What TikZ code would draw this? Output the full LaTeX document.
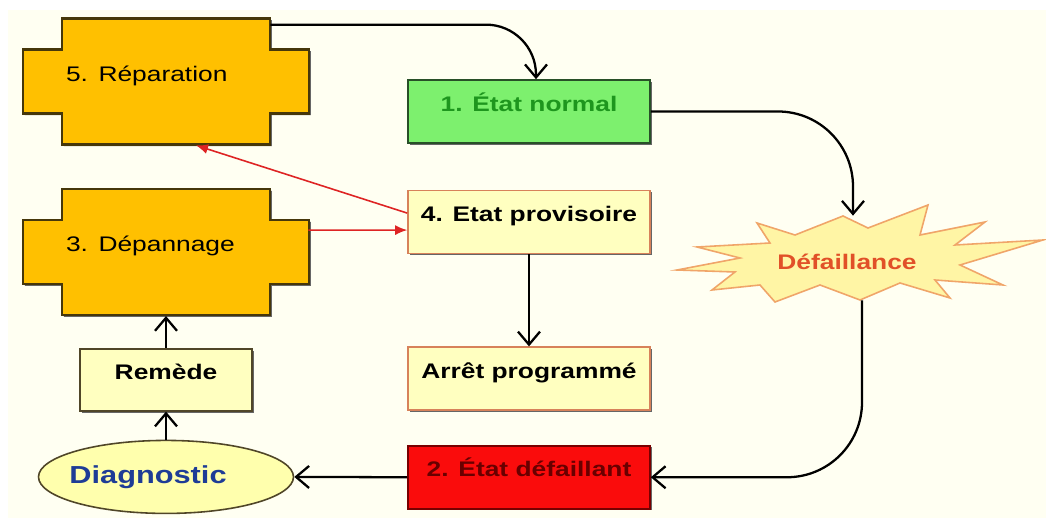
\documentclass[tikz,border=0pt]{standalone}
\usepackage{fontspec}
\setmainfont{Liberation Sans}[FakeStretch=1.25]
\usetikzlibrary{arrows.meta,positioning,shapes.geometric,backgrounds,shadows}

\definecolor{paper}{RGB}{255,255,242}
\definecolor{crossfill}{RGB}{255,192,0}
\definecolor{crossedge}{RGB}{70,55,10}
\definecolor{okfill}{RGB}{125,240,110}
\definecolor{okedge}{RGB}{40,80,40}
\definecolor{oktext}{RGB}{30,150,30}
\definecolor{palefill}{RGB}{255,255,192}
\definecolor{paleedge}{RGB}{215,130,90}
\definecolor{darkedge}{RGB}{80,70,40}
\definecolor{faultfill}{RGB}{250,12,12}
\definecolor{faultedge}{RGB}{120,0,0}
\definecolor{faulttext}{RGB}{105,0,0}
\definecolor{diagtext}{RGB}{30,60,150}
\definecolor{burstfill}{RGB}{255,245,165}
\definecolor{burstedge}{RGB}{240,165,105}
\definecolor{bursttext}{RGB}{225,80,40}
\definecolor{redline}{RGB}{222,36,36}

\begin{document}
\begin{tikzpicture}[
          >={Straight Barb[length=2.6mm,width=4.4mm]},
          shade/.style={drop shadow={shadow xshift=0.035cm, shadow yshift=-0.035cm, fill=black!60, opacity=1}},
          state/.style={draw, line width=0.9pt, minimum width=4.84cm, minimum height=1.26cm,
                        inner sep=0pt, text height=9pt, text depth=9.5pt, shade,
                        font=\fontsize{12}{14}\selectfont\bfseries},
          normal/.style={state, fill=okfill, draw=okedge, text=oktext},
          pale/.style={state, fill=palefill, draw=paleedge},
          fault/.style={state, fill=faultfill, draw=faultedge, text=faulttext},
          remedy/.style={state, fill=palefill, draw=darkedge, minimum width=3.44cm, minimum height=1.24cm},
          repair/.style={minimum width=4.16cm, minimum height=2.54cm, inner sep=0pt,
                         text width=4.0cm, align=left, text height=9pt, text depth=9.5pt,
                         font=\fontsize{12}{14}\selectfont},
          oval/.style={ellipse, draw=darkedge, line width=0.9pt, fill=palefill!90!yellow,
                       minimum width=5.1cm, minimum height=1.46cm, inner sep=0pt},
          burst/.style={minimum width=4cm, minimum height=1.84cm, inner sep=0pt, text=bursttext,
                        font=\fontsize{12}{14}\selectfont\bfseries},
          crossline/.style={fill=crossfill, draw=crossedge, line width=1.2pt, shade},
          burstline/.style={fill=burstfill, draw=burstedge, line width=0.9pt},
          flow/.style={->, line width=1.3pt},
          redflow/.style={-{Latex[length=2.4mm,width=2mm]}, draw=redline, line width=0.9pt}
        ]
        \useasboundingbox (0,0) rectangle (20.92,10.36);

        % Left column
        \node[repair] (rep) at (3.32,8.73) {5. Réparation};
        \node[repair, below=0.86cm of rep] (dep) {3. Dépannage};
        \node[remedy, below=0.64cm of dep] (remede) {Remède};
        \node[oval, below=0.56cm of remede,
              label={[xshift=-0.36cm, text=diagtext, font=\fontsize{14}{16}\selectfont\bfseries]center:Diagnostic}] (diag) {};

        % Middle column
        \node[normal] (normal) at (10.58,8.13) {1. État normal};
        \node[pale, below=0.92cm of normal] (prov) {4. Etat provisoire};
        \node[pale, below=1.84cm of prov] (arret) {Arrêt programmé};
        \node[fault, below=0.68cm of arret] (defaillant) {2. État défaillant};

        % Right
        \node[burst] (star) at (16.94,5.12) {Défaillance};

        \begin{scope}[on background layer]
          \fill[paper] (0.16,0) rectangle (20.92,10.16);
          \foreach \c in {rep,dep}
            \draw[crossline, shift={(\c.center)}] (-2.08,1.26) -- (2.08,1.26) -- (2.08,0.64)
              -- (2.86,0.64) -- (2.86,-0.64) -- (2.08,-0.64) -- (2.08,-1.26) -- (-2.08,-1.26)
              -- (-2.08,-0.64) -- (-2.86,-0.64) -- (-2.86,0.64) -- (-2.08,0.64) -- cycle;
          \draw[burstline, shift={(star.center)}] (-0.08,0.92) -- (0.42,0.68) -- (1.62,1.14)
            -- (1.46,0.54) -- (2.76,0.80) -- (2.16,0.34) -- (3.92,0.44) -- (2.26,-0.06)
            -- (3.12,-0.46) -- (1.76,-0.36) -- (2.06,-0.72) -- (1.06,-0.42) -- (0.26,-0.76)
            -- (-0.54,-0.46) -- (-1.44,-0.80) -- (-1.74,-0.46) -- (-2.70,-0.56) -- (-2.24,-0.20)
            -- (-3.40,-0.16) -- (-2.14,0.08) -- (-3.00,0.30) -- (-1.54,0.38) -- (-1.80,0.78)
            -- (-1.04,0.54) -- cycle;
        \end{scope}

        % Cycle
        \draw[flow, rounded corners=1cm] ([yshift=-0.14cm]rep.north east) -| ([xshift=0.14cm]normal.north);
        \draw[flow, rounded corners=1.5cm] (normal.east) -| ([xshift=0.12cm]star.north);
        \draw[flow, rounded corners=1.5cm] ([xshift=0.3cm,yshift=0.16cm]star.south) |- (defaillant.east);
        \draw[flow] (defaillant.west) -- (diag.east);
        \draw[flow] (diag.north) -- (remede.south);
        \draw[flow] (remede.north) -- (dep.south);
        \draw[flow] (prov.south) -- (arret.north);

        % Temporary repair
        \draw[redflow] ([yshift=0.18cm]prov.west) -- ([xshift=0.6cm]rep.south);
        \draw[redflow] ([xshift=0.76cm,yshift=0.44cm]dep.east) -- ([yshift=-0.16cm]prov.west);

      \end{tikzpicture}
\end{document}
